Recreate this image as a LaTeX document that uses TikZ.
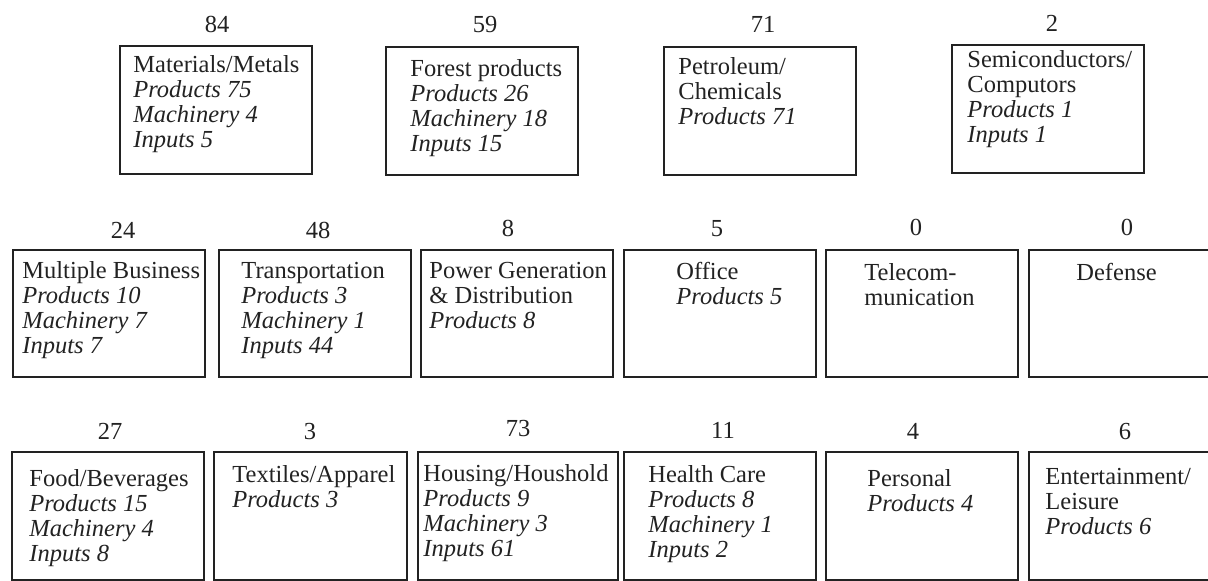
\documentclass[tikz,border=0pt]{standalone}
\usepackage{fontspec}
\setmainfont{Liberation Serif}
\definecolor{ink}{HTML}{222222}
\newcommand{\itm}[1]{\textit{#1}}
% stacked lines whose reference point is the first baseline
\newcommand{\stack}[1]{\begin{tabular}[t]{@{}l@{}}#1\end{tabular}}
\begin{document}
\begin{tikzpicture}[x=0.5pt,y=-0.5pt,
  sector/.style={draw=ink, line width=1.15pt, rectangle, inner sep=0pt, outer sep=0pt,
    anchor=north west, minimum width=96pt, minimum height=64pt},
  count/.style={anchor=base, inner sep=0pt, text=ink, font=\fontsize{12.25}{12.35}\selectfont},
  entry/.style={anchor=base west, inner sep=0pt, text=ink,
    font=\fontsize{12.25}{12.35}\selectfont}]
\useasboundingbox (0,0) rectangle (1208,581);
\clip (0,0) rectangle (1208,581);

% ---- top row: resource sectors
\node[sector] (b1) at (120,46) {};
\node[count] (n1) at (217,33) {84};
\node[entry] (t1) at (133,73) {\stack{Materials/Metals\\\itm{Products 75}\\\itm{Machinery 4}\\\itm{Inputs 5}}};

\node[sector] (b2) at (386,47) {};
\node[count] (n2) at (485,33) {59};
\node[entry] (t2) at (410,77) {\stack{Forest products\\\itm{Products 26}\\\itm{Machinery 18}\\\itm{Inputs 15}}};

\node[sector] (b3) at (664,47) {};
\node[count] (n3) at (763,33) {71};
\node[entry] (t3) at (678,75) {\stack{Petroleum/\\Chemicals\\\itm{Products 71}}};

\node[sector] (b4) at (952,45) {};
\node[count] (n4) at (1052,32) {2};
\node[entry] (t4) at (967,68) {\stack{Semiconductors/\\Computors\\\itm{Products 1}\\\itm{Inputs 1}}};

% ---- middle row: industrial and supporting sectors
\node[sector, minimum height=63.5pt] (b5) at (13,250) {};
\node[count] (n5) at (123,239) {24};
\node[entry] (t5) at (22,279) {\stack{Multiple Business\\\itm{Products 10}\\\itm{Machinery 7}\\\itm{Inputs 7}}};

\node[sector, minimum height=63.5pt] (b6) at (219,250) {};
\node[count] (n6) at (318,239) {48};
\node[entry] (t6) at (241,279) {\stack{Transportation\\\itm{Products 3}\\\itm{Machinery 1}\\\itm{Inputs 44}}};

\node[sector, minimum height=63.5pt] (b7) at (421,250) {};
\node[count] (n7) at (508,237) {8};
\node[entry] (t7) at (429,279) {\stack{Power Generation\\\& Distribution\\\itm{Products 8}}};

\node[sector, minimum height=63.5pt] (b8) at (624,250) {};
\node[count] (n8) at (717,237) {5};
\node[entry] (t8) at (676,280) {\stack{Office\\\itm{Products 5}}};

\node[sector, minimum height=63.5pt] (b9) at (826,250) {};
\node[count] (n9) at (916,236) {0};
\node[entry] (t9) at (864,281) {\stack{Telecom-\\munication}};

\node[sector, minimum height=63.5pt] (b10) at (1029,250) {};
\node[count] (n10) at (1127,236) {0};
\node[entry] (t10) at (1076,281) {Defense};

% ---- bottom row: consumer sectors
\node[sector] (b11) at (12,452) {};
\node[count] (n11) at (110,440) {27};
\node[entry] (t11) at (29,487) {\stack{Food/Beverages\\\itm{Products 15}\\\itm{Machinery 4}\\\itm{Inputs 8}}};

\node[sector, minimum width=96.5pt] (b12) at (214,452) {};
\node[count] (n12) at (310,440) {3};
\node[entry] (t12) at (232,483) {\stack{Textiles/Apparel\\\itm{Products 3}}};

\node[sector, minimum width=100pt] (b13) at (418,452) {};
\node[count] (n13) at (518,437) {73};
\node[entry] (t13) at (423,482) {\stack{Housing/Houshold\\\itm{Products 9}\\\itm{Machinery 3}\\\itm{Inputs 61}}};

\node[sector] (b14) at (624,452) {};
\node[count] (n14) at (723,439) {11};
\node[entry] (t14) at (648,483) {\stack{Health Care\\\itm{Products 8}\\\itm{Machinery 1}\\\itm{Inputs 2}}};

\node[sector] (b15) at (826,452) {};
\node[count] (n15) at (913,440) {4};
\node[entry] (t15) at (867,487) {\stack{Personal\\\itm{Products 4}}};

\node[sector] (b16) at (1029,452) {};
\node[count] (n16) at (1125,440) {6};
\node[entry] (t16) at (1045,485) {\stack{Entertainment/\\Leisure\\\itm{Products 6}}};
\end{tikzpicture}
\end{document}
